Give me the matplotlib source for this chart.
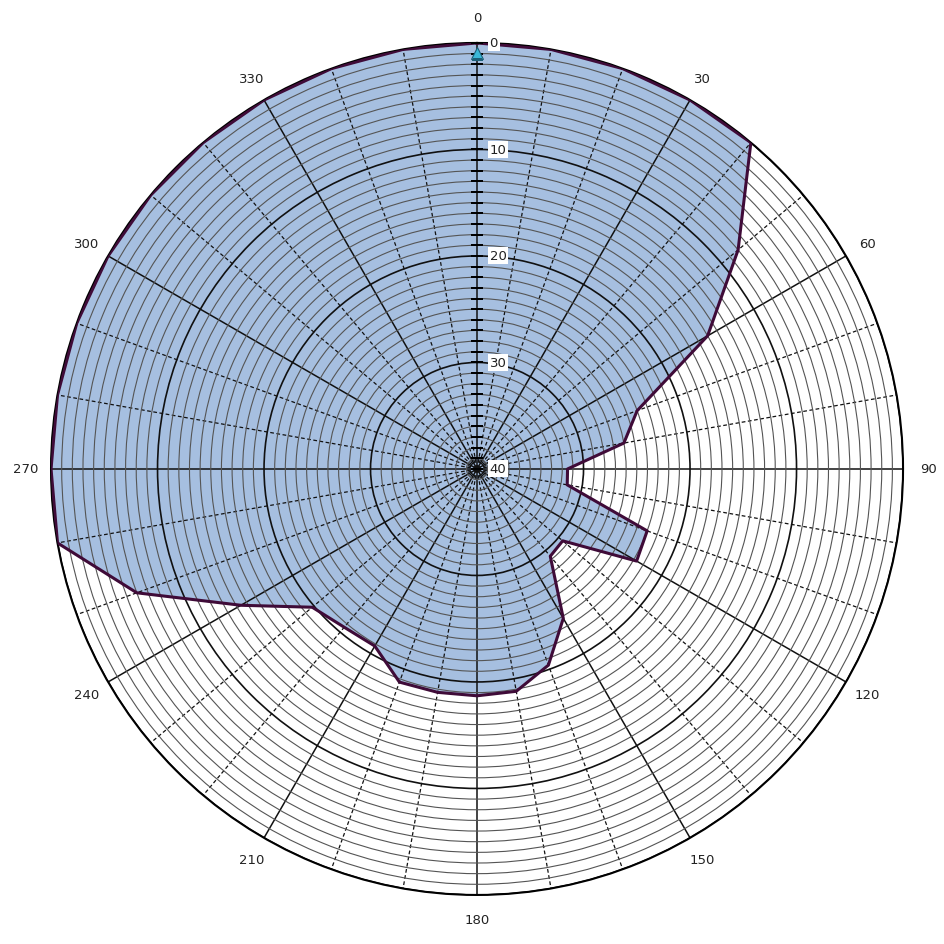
import numpy as np
import matplotlib
matplotlib.use('Agg')
import matplotlib.pyplot as plt

# Werte je 10 Grad (0 = Aussenrand, 40 = Mitte)
winkel = list(range(0, 360, 10))
werte = [0, 0, 0, 0, 0, 8, 15, 24, 26, 31.5,
         31.4, 23, 22.7, 29.5, 29.3, 23.8, 20.4, 18.8, 18.7, 18.7,
         18.7, 20.8, 20.6, 19.8, 14.4, 6, 0, 0, 0, 0,
         0, 0, 0, 0, 0, 0]

winkel_labels = [str(w) for w in range(0, 360, 30)]
r_labels = [0, 10, 20, 30, 40]

fig = plt.figure(figsize=(9.45, 9.45), dpi=100)
ax = fig.add_axes([0.054, 0.0519, 0.9016, 0.9016], projection='polar')
ax.set_theta_zero_location('N')
ax.set_theta_direction(-1)
ax.set_ylim(40, 0)

theta = np.deg2rad(winkel + [winkel[0]])
r = werte + [werte[0]]
ax.fill(theta, r, color='#a6bfe0', zorder=1)
ax.plot(theta, r, color='#3f0b38', lw=2.2, zorder=3)

# Gitter
ax.set_yticks(r_labels)
ax.set_yticks(np.arange(0, 41), minor=True)
ax.set_yticklabels([])
ax.yaxis.grid(True, which='minor', color='#555555', lw=0.8)
ax.yaxis.grid(True, which='major', color='#111111', lw=1.2)

ax.set_xticks(np.deg2rad(range(0, 360, 30)))
ax.set_xticks(np.deg2rad(range(0, 360, 10)), minor=True)
ax.set_xticklabels(winkel_labels, fontsize=9.5, color='#222222')
ax.xaxis.grid(True, which='major', color='#111111', lw=1.1)
ax.xaxis.grid(True, which='minor', color='#111111', lw=0.9, linestyle=(0, (3, 2)))
ax.tick_params(axis='x', which='both', length=0, pad=11)
ax.tick_params(axis='y', which='both', length=0)
ax.spines['polar'].set_linewidth(1.5)
ax.spines['polar'].set_color('black')

# Striche an der senkrechten Achse
ax.plot(np.zeros(41), np.arange(0, 41), ls='none', marker='_', ms=8,
        mew=1.2, color='black', zorder=4)

for v in r_labels:
    ax.annotate(str(v), xy=(0, v), xytext=(9, 0), textcoords='offset points',
                ha='left', va='center', fontsize=9.5, color='#222222',
                bbox=dict(boxstyle='square,pad=0.15', fc='white', ec='none'),
                zorder=5)

# Pfeil oben
ax.plot([0], [0.9], marker='^', ms=9, color='#3bb8d8', mec='#1d5f78',
        mew=0.8, zorder=6)

fig.savefig('out.png', dpi=100)
